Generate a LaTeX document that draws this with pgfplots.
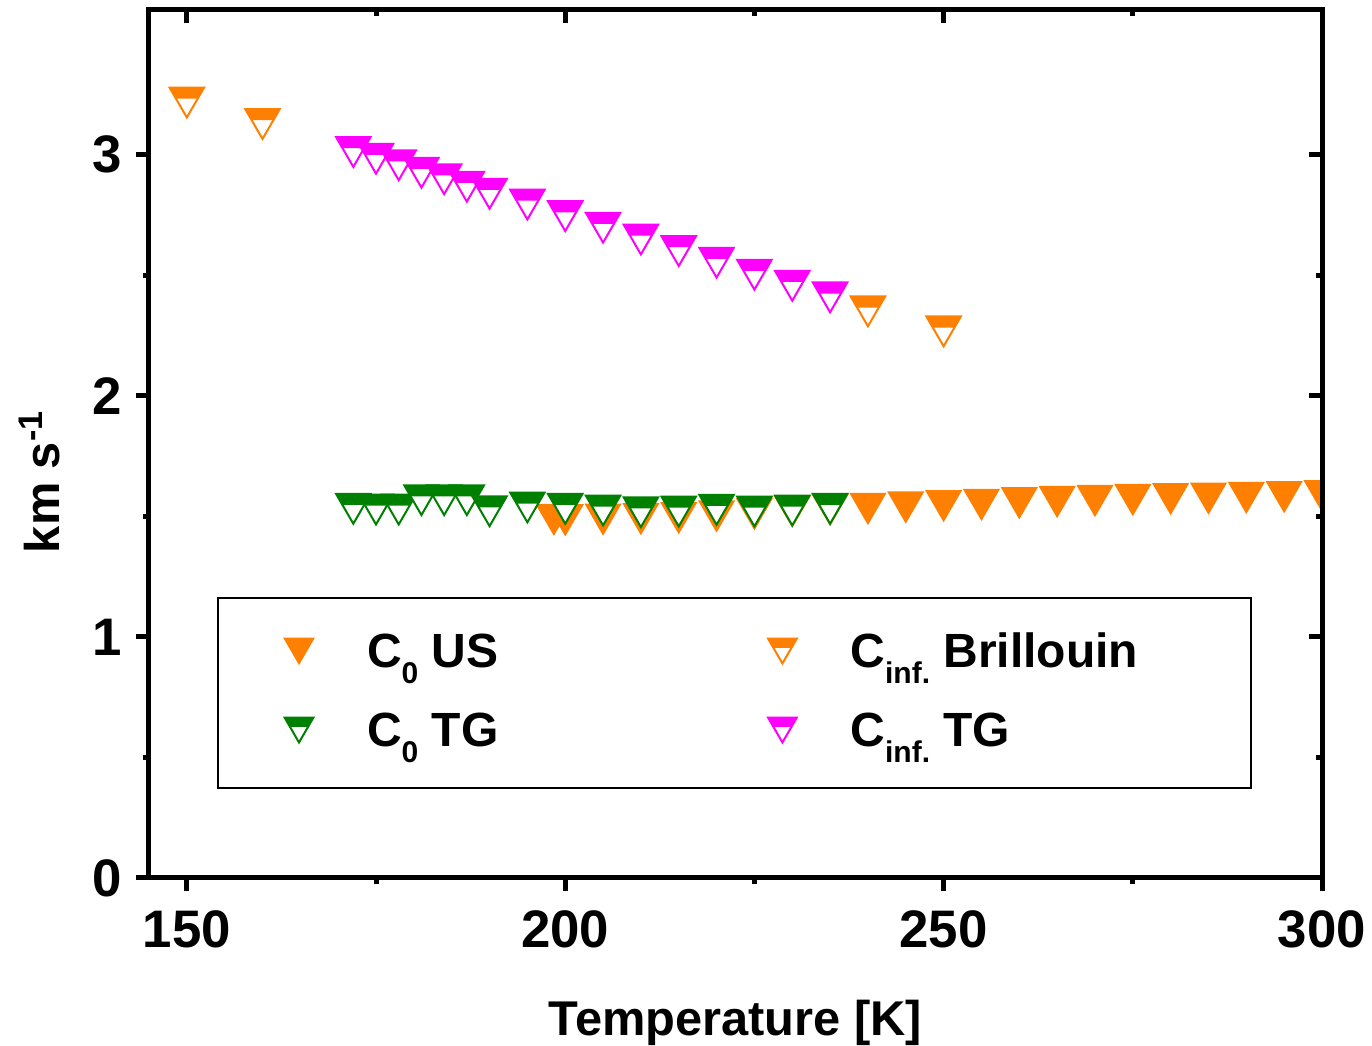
\documentclass[border=0pt]{standalone}
\usepackage{fontspec}
\setmainfont{Liberation Sans}
\usepackage{pgfplots}
\pgfplotsset{compat=1.18}
\definecolor{corange}{HTML}{FF8000}
\definecolor{cgreen}{HTML}{008000}
\definecolor{cmag}{HTML}{FF00FF}

\makeatletter
\pgfdeclareplotmark{halfdown}{%
  \begin{pgfscope}%
  \pgfpathmoveto{\pgfqpoint{-\pgfplotmarksize}{0.866\pgfplotmarksize}}%
  \pgfpathlineto{\pgfqpoint{\pgfplotmarksize}{0.866\pgfplotmarksize}}%
  \pgfpathlineto{\pgfqpoint{0pt}{-0.866\pgfplotmarksize}}%
  \pgfpathclose
  \pgfsetfillcolor{white}%
  \pgfusepathqfill
  \end{pgfscope}%
  \pgfpathmoveto{\pgfqpoint{-\pgfplotmarksize}{0.866\pgfplotmarksize}}%
  \pgfpathlineto{\pgfqpoint{\pgfplotmarksize}{0.866\pgfplotmarksize}}%
  \pgfpathlineto{\pgfqpoint{0.63\pgfplotmarksize}{0.225\pgfplotmarksize}}%
  \pgfpathlineto{\pgfqpoint{-0.63\pgfplotmarksize}{0.225\pgfplotmarksize}}%
  \pgfpathclose
  \pgfusepathqfill
  \pgfpathmoveto{\pgfqpoint{-\pgfplotmarksize}{0.866\pgfplotmarksize}}%
  \pgfpathlineto{\pgfqpoint{\pgfplotmarksize}{0.866\pgfplotmarksize}}%
  \pgfpathlineto{\pgfqpoint{0pt}{-0.866\pgfplotmarksize}}%
  \pgfpathclose
  \pgfusepathqstroke
}
\pgfdeclareplotmark{fulldown}{%
  \pgfpathmoveto{\pgfqpoint{-\pgfplotmarksize}{0.866\pgfplotmarksize}}%
  \pgfpathlineto{\pgfqpoint{\pgfplotmarksize}{0.866\pgfplotmarksize}}%
  \pgfpathlineto{\pgfqpoint{0pt}{-0.866\pgfplotmarksize}}%
  \pgfpathclose
  \pgfusepathqfillstroke
}
\makeatother

\newcommand{\sub}[1]{\raisebox{-4.2pt}{\fontsize{7.5}{8}\selectfont #1}}

\pgfplotsset{
  common/.style={
    scale only axis, width=293.25pt, height=217pt,
    xmin=145, xmax=300, ymin=0, ymax=3.6,
    xtick={150,200,250,300}, ytick={0,1,2,3},
    minor x tick num=1, minor y tick num=1,
    major tick length=3.3pt, minor tick length=1.6pt,
    tick style={black, line width=1.25pt},
    axis line style={line width=1.25pt},
  },
  lim/.style={legend image code/.code={%
    \path (0pt,-6.25pt) (36.75pt,13pt);
    \draw[##1, mark size=3.6pt] plot coordinates {(20pt,4pt)};}},
}

\begin{document}
\begin{tikzpicture}
\begin{axis}[common, name=main,
  tick align=outside, xtick pos=left, ytick pos=left,
  /pgf/number format/assume math mode=true,
  tick label style={font=\fontsize{13.2}{15}\selectfont\bfseries},
  xticklabel style={anchor=base, yshift=-14pt},
  yticklabel style={anchor=east},
  label style={font=\fontsize{12.2}{14}\selectfont\bfseries},
  xlabel={Temperature [K]},
  ylabel={km s\textsuperscript{-1}},
  xlabel style={at={(axis description cs:0.5,0)}, anchor=base, yshift=-39.5pt},
  ylabel style={at={(axis description cs:-0.0759,0.457)}, anchor=base},
  clip marker paths=true,
  legend columns=2,
  legend style={at={(0.058,0.3237)}, anchor=north west, draw=black, line width=0.5pt,
    inner xsep=0pt, inner ysep=4pt, column sep=0pt, row sep=0pt,
    font=\fontsize{12}{14}\selectfont\bfseries,
    nodes={inner sep=0pt, text height=13pt, text depth=6.25pt, anchor=base west}},
]
% C0 US
\addplot[only marks, mark=fulldown, mark size=4.3pt, mark options={draw=corange, fill=corange, line width=0.4pt, solid}, lim]
coordinates {
(198.5,1.487) (200,1.485) (205,1.488) (210,1.490) (215,1.494) (220,1.501) (225,1.510)
(230,1.520) (235,1.527) (240,1.532) (245,1.538) (250,1.544) (255,1.549) (260,1.556)
(265,1.561) (270,1.565) (275,1.569) (280,1.573) (285,1.575) (290,1.578) (295,1.581) (300,1.585)
};
\addlegendentry{\makebox[83.6pt][l]{C\sub{0} US}}
% Cinf Brillouin
\addplot[only marks, mark=halfdown, mark size=4.3pt, mark options={draw=corange, fill=corange, line width=0.5pt, solid}, lim]
coordinates {
(150,3.216) (160,3.127) (240,2.350) (250,2.267)
};
\addlegendentry{\makebox[100.1pt][l]{C\sub{inf.} Brillouin}}
% C0 TG
\addplot[only marks, mark=halfdown, mark size=4.3pt, mark options={draw=cgreen, fill=cgreen, line width=0.5pt, solid}, lim]
coordinates {
(172,1.531) (175,1.528) (178,1.528) (181,1.567) (184,1.567) (187,1.567) (190,1.521)
(195,1.537) (200,1.531) (205,1.524) (210,1.517) (215,1.520) (220,1.527) (225,1.520)
(230,1.524) (235,1.531)
};
\addlegendentry{\makebox[83.6pt][l]{C\sub{0} TG}}
% Cinf TG
\addplot[only marks, mark=halfdown, mark size=4.3pt, mark options={draw=cmag, fill=cmag, line width=0.5pt, solid}, lim]
coordinates {
(172,3.011) (175,2.983) (178,2.956) (181,2.925) (184,2.898) (187,2.867) (190,2.838)
(195,2.793) (200,2.745) (205,2.697) (210,2.648) (215,2.600) (220,2.552) (225,2.502)
(230,2.456) (235,2.408)
};
\addlegendentry{\makebox[100.1pt][l]{C\sub{inf.} TG}}
\end{axis}
\begin{axis}[common,
  tick align=inside, xtick pos=right, ytick pos=right,
  xticklabels={}, yticklabels={},
]
\end{axis}
\pgfresetboundingbox
\path[use as bounding box] ([shift={(-37.25pt,-42pt)}]main.south west) rectangle ([shift={(12.5pt,2.5pt)}]main.north east);
\end{tikzpicture}
\end{document}
